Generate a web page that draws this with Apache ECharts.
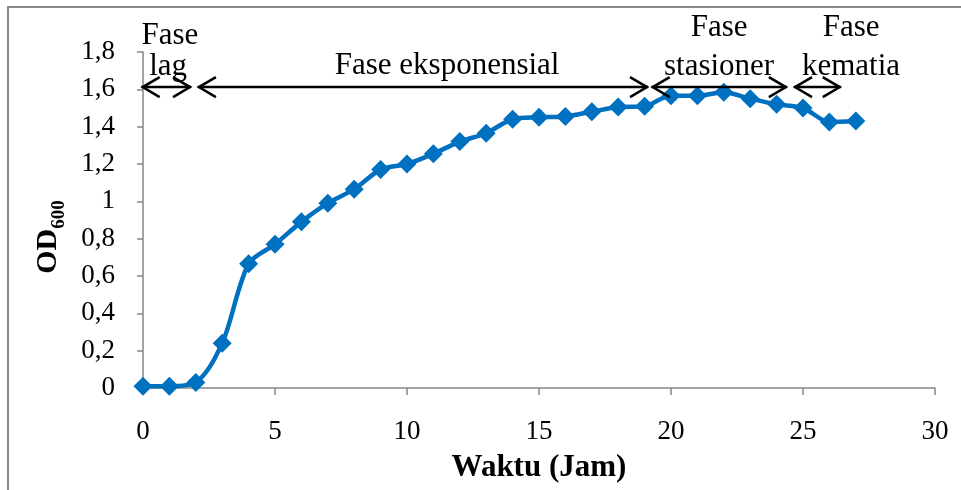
<!DOCTYPE html>
<html>
<head>
<meta charset="utf-8">
<script src="https://cdn.jsdelivr.net/npm/echarts@6/dist/echarts.min.js"></script>
<style>html,body{margin:0;padding:0;background:#fff;}#c{width:961px;height:490px;}</style>
</head>
<body>
<div id="c"></div>
<script>
// Time (hours)
var hours = [0,1,2,3,4,5,6,7,8,9,10,11,12,13,14,15,16,17,18,19,20,21,22,23,24,25,26,27];
// OD600 values
var od600 = [0.01,0.01,0.03,0.24,0.665,0.77,0.89,0.99,1.065,1.17,1.2,1.255,1.32,1.365,1.44,1.45,1.455,1.48,1.505,1.51,1.565,1.565,1.585,1.55,1.52,1.5,1.425,1.43];
// Phase arrows: [start hour, end hour, OD level]
var phaseArrows = [[-0.05,1.82,1.612],[2.08,19.13,1.612],[19.27,24.39,1.612],[24.66,26.43,1.612]];
// Phase labels: [hour, OD]
var phaseLabelPos = [[1.02,1.887],[0.95,1.72],[11.52,1.727],[21.82,1.93],[21.82,1.722],[26.82,1.93],[26.82,1.722]];
var phaseLabelText = ['Fase','lag','Fase eksponensial','Fase','stasioner','Fase','kematia'];
var xTicks = [0,5,10,15,20,25,30];
var yTickLabels = ['0','0,2','0,4','0,6','0,8','1','1,2','1,4','1,6','1,8'];

var serif = "'Liberation Serif','Times New Roman',serif";
var axisGray = '#868686';
var chart = echarts.init(document.getElementById('c'));
var lineData = hours.map(function(h,i){return [h, od600[i]];});

chart.setOption({
  animation:false,
  backgroundColor:'#fff',
  graphic:[{type:'rect', shape:{x:8,y:7,width:1200,height:1200}, style:{fill:null, stroke:'#8a8a8a', lineWidth:2}, silent:true, z:-10}],
  grid:{left:143, right:26, top:52, bottom:102, outerBoundsMode:'none', containLabel:false},
  xAxis:{
    type:'value', min:0, max:30, interval:5,
    axisLine:{lineStyle:{color:axisGray, width:1.5}},
    axisTick:{show:true, inside:false, length:7, lineStyle:{color:axisGray, width:1.5}},
    splitLine:{show:false},
    axisLabel:{fontFamily:serif, fontSize:27, color:'#000', margin:30,
      formatter:function(v){return xTicks.indexOf(v)>=0?String(v):'';}},
    name:'Waktu (Jam)', nameLocation:'middle', nameGap:64,
    nameTextStyle:{fontFamily:serif, fontSize:31, fontWeight:'bold', color:'#000'}
  },
  yAxis:{
    type:'value', min:0, max:1.8, interval:0.2,
    axisLine:{show:true, lineStyle:{color:axisGray, width:1.5}},
    axisTick:{show:true, inside:false, length:6, lineStyle:{color:axisGray, width:1.5}},
    splitLine:{show:false},
    axisLabel:{fontFamily:serif, fontSize:27, color:'#000', margin:28,
      formatter:function(v){return yTickLabels[Math.round(v/0.2)];}},
    name:'{a|OD}{b|600}', nameLocation:'middle', nameGap:74, nameRotate:90,
    nameTextStyle:{rich:{
      a:{fontFamily:serif, fontSize:30, fontWeight:'bold', color:'#000', lineHeight:36, verticalAlign:'top'},
      b:{fontFamily:serif, fontSize:19, fontWeight:'bold', color:'#000', lineHeight:36, verticalAlign:'bottom', padding:[14,34,0,0]}
    }}
  },
  series:[
    {
      type:'line', data:lineData, smooth:0.3,
      lineStyle:{color:'#0070C0', width:4.5},
      itemStyle:{color:'#0070C0'},
      symbol:'diamond', symbolSize:[19,19], showSymbol:true, z:2
    },
    {
      type:'custom', data:phaseArrows, encode:{x:[0,1], y:2}, clip:false, z:5, silent:true,
      renderItem:function(params, api){
        var p1 = api.coord([api.value(0), api.value(2)]);
        var p2 = api.coord([api.value(1), api.value(2)]);
        var h = 18, w = 10, st = {stroke:'#000', lineWidth:2.5, fill:null};
        return {type:'group', children:[
          {type:'line', shape:{x1:p1[0], y1:p1[1], x2:p2[0], y2:p2[1]}, style:st},
          {type:'polyline', shape:{points:[[p1[0]+h,p1[1]-w],[p1[0]+1,p1[1]],[p1[0]+h,p1[1]+w]]}, style:st},
          {type:'polyline', shape:{points:[[p2[0]-h,p2[1]-w],[p2[0]-1,p2[1]],[p2[0]-h,p2[1]+w]]}, style:st}
        ]};
      }
    },
    {
      type:'custom', data:phaseLabelPos, encode:{x:0, y:1}, clip:false, z:6, silent:true,
      renderItem:function(params, api){
        var p = api.coord([api.value(0), api.value(1)]);
        return {type:'text', x:p[0], y:p[1], style:{text:phaseLabelText[params.dataIndex], fontFamily:serif, fontSize:31, fill:'#000', align:'center', verticalAlign:'middle'}};
      }
    }
  ]
});
</script>
</body>
</html>
